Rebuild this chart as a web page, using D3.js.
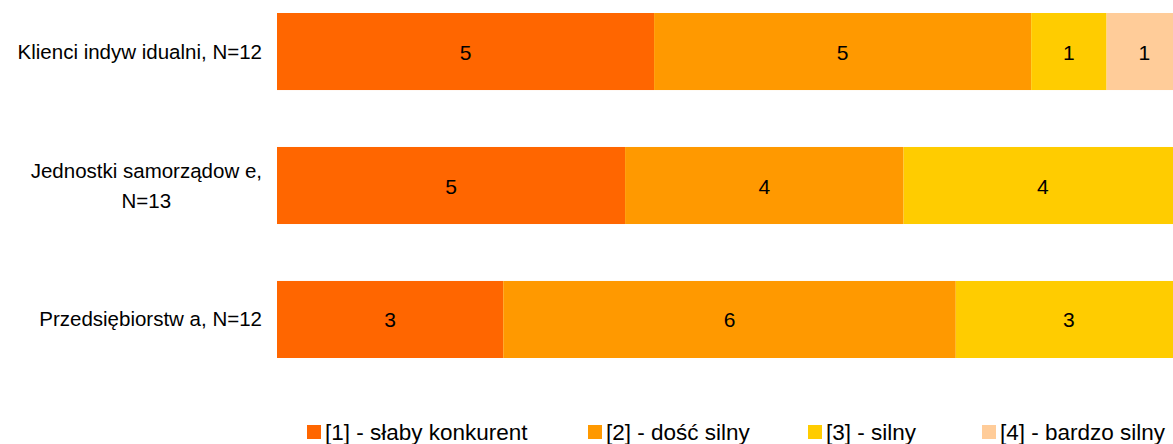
<!DOCTYPE html>
<html><head><meta charset="utf-8">
<script src="https://cdn.jsdelivr.net/npm/d3@7"></script>
<style>body{margin:0;background:#fff;overflow:hidden}</style>
</head><body>
<svg id="c" width="1173" height="444"></svg>
<script>
const categories = [["Klienci indyw idualni, N=12"], ["Jednostki samorządow e,", "N=13"], ["Przedsiębiorstw a, N=12"]];
const seriesNames = ["[1] - słaby konkurent", "[2] - dość silny", "[3] - silny", "[4] - bardzo silny"];
const s1 = [5, 5, 3];
const s2 = [5, 4, 6];
const s3 = [1, 4, 3];
const s4 = [1, 0, 0];
const colors = ["#FF6600", "#FF9900", "#FFCC00", "#FFCC99"];

const series = [s1, s2, s3, s4];
const rows = categories.map((c, i) => {
  const vals = series.map(s => s[i]);
  const total = d3.sum(vals);
  let cum = 0;
  return vals.map((v, k) => { const o = {k, v, x0: cum / total, x1: (cum + v) / total}; cum += v; return o; });
});

const svg = d3.select("#c");
const x = d3.scaleLinear().domain([0, 1]).range([277, 1182]);
const y = d3.scaleBand().domain(d3.range(categories.length)).range([13, 358]).paddingInner(0.425).paddingOuter(0);

const g = svg.selectAll("g.row").data(rows).join("g").attr("class", "row");
g.each(function(r, i) {
  const gg = d3.select(this);
  const segs = r.filter(d => d.v > 0);
  gg.selectAll("rect").data(segs).join("rect")
    .attr("x", d => x(d.x0)).attr("width", d => x(d.x1) - x(d.x0))
    .attr("y", y(i)).attr("height", y.bandwidth())
    .attr("fill", d => colors[d.k]);
  gg.selectAll("text").data(segs).join("text")
    .attr("x", d => (x(d.x0) + x(d.x1)) / 2)
    .attr("y", y(i) + y.bandwidth() / 2 + 8)
    .attr("text-anchor", "middle")
    .style("font-family", "Liberation Sans, Arial, sans-serif").style("font-size", "21px").attr("fill", "#000")
    .text(d => d.v);
});

categories.forEach((lines, i) => {
  const cy = y(i) + y.bandwidth() / 2;
  const lh = 30;
  const t = svg.append("text").attr("text-anchor", "end")
    .style("font-family", "Liberation Sans, Arial, sans-serif").style("font-size", "20.5px").attr("fill", "#000");
  lines.forEach((ln, j) => {
    t.append("tspan").attr("x", 262)
      .attr("y", cy + 7 + (j - (lines.length - 1) / 2) * lh).text(ln);
  });
  if (lines.length > 1) {
    const first = t.select("tspan").node();
    const w = first.getComputedTextLength();
    t.selectAll("tspan").filter((d, j) => j > 0).attr("text-anchor", "middle").attr("x", 262 - w / 2);
  }
});

const legX = [307, 588, 808, 982];
const leg = svg.selectAll("g.leg").data(seriesNames).join("g").attr("class", "leg")
  .attr("transform", (d, i) => `translate(${legX[i]},425)`);
leg.append("rect").attr("width", 14).attr("height", 14).attr("fill", (d, i) => colors[i]);
leg.append("text").attr("x", 18).attr("y", 15)
  .style("font-family", "Liberation Sans Narrow, Arial Narrow, sans-serif").style("font-size", "22.5px").attr("fill", "#000")
  .text(d => d);
</script>
</body></html>
